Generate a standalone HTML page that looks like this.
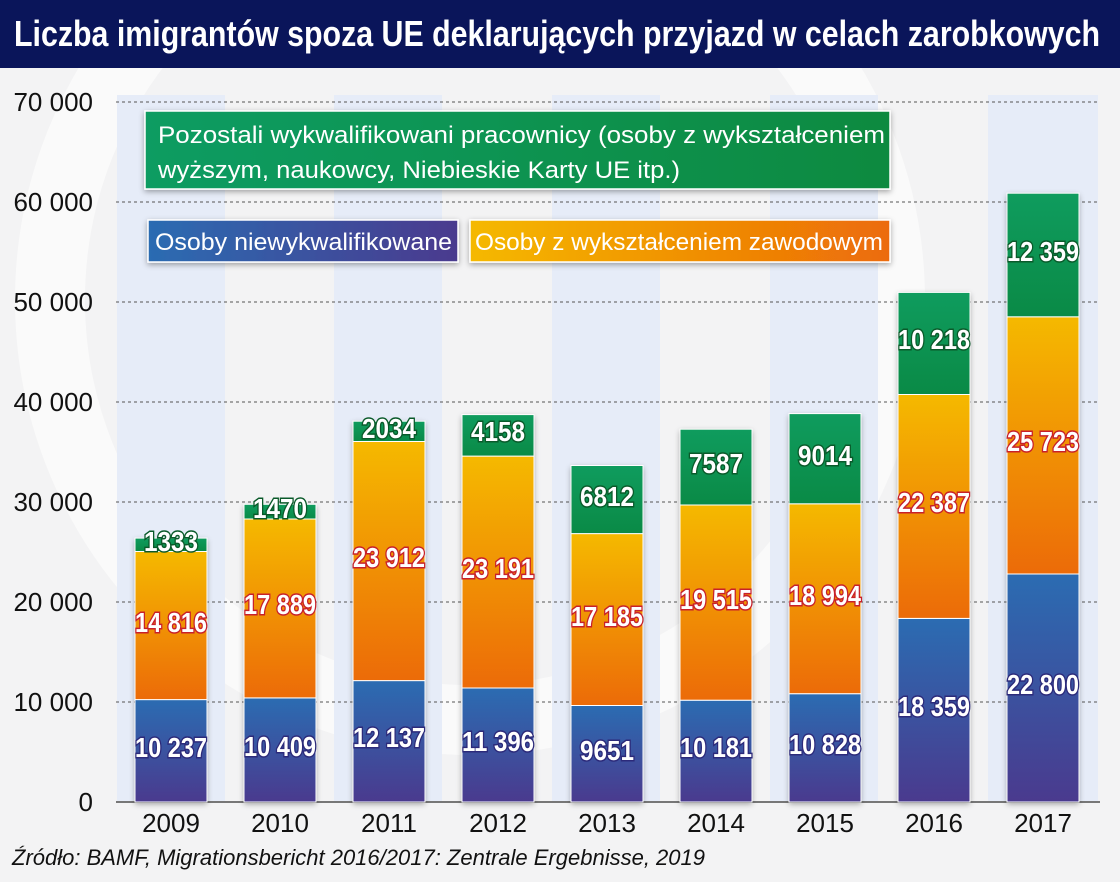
<!DOCTYPE html>
<html><head><meta charset="utf-8"><style>
html,body{margin:0;padding:0;width:1120px;height:882px;overflow:hidden;background:#f3f3f4}
svg{display:block}
text{font-family:"Liberation Sans Narrow","Liberation Sans",sans-serif}
.v{font-size:28px;font-weight:bold;fill:#fff;stroke-width:3px;paint-order:stroke;text-anchor:middle}
.b{stroke:#2c2a7a}.o{stroke:#c8202a}.g{stroke:#0a5a2a}
</style></head><body>
<svg width="1120" height="882" viewBox="0 0 1120 882" xmlns="http://www.w3.org/2000/svg">
<defs>
<linearGradient id="gb" x1="0" y1="0" x2="0" y2="1"><stop offset="0" stop-color="#2b6cb2"/><stop offset="1" stop-color="#4a3a8e"/></linearGradient>
<linearGradient id="go" x1="0" y1="0" x2="0" y2="1"><stop offset="0" stop-color="#f5b900"/><stop offset="1" stop-color="#ec6b08"/></linearGradient>
<linearGradient id="gg" x1="0" y1="0" x2="0" y2="1"><stop offset="0" stop-color="#0f9c5e"/><stop offset="1" stop-color="#0a8a46"/></linearGradient>
<linearGradient id="gbl" x1="0" y1="0" x2="1" y2="0"><stop offset="0" stop-color="#2b6cb2"/><stop offset="1" stop-color="#4a3a8e"/></linearGradient>
<linearGradient id="gol" x1="0" y1="0" x2="1" y2="0"><stop offset="0" stop-color="#f5b900"/><stop offset="1" stop-color="#ec6b08"/></linearGradient>
<linearGradient id="ggl" x1="0" y1="0" x2="1" y2="0"><stop offset="0" stop-color="#0f9c62"/><stop offset="1" stop-color="#0b8a40"/></linearGradient>
<filter id="sh" x="-20%" y="-20%" width="140%" height="140%"><feDropShadow dx="0" dy="2" stdDeviation="3" flood-color="#000" flood-opacity="0.35"/></filter>
</defs>
<circle cx="470" cy="300" r="420" fill="none" stroke="#fbfbfb" stroke-width="70" opacity="0.8"/>
<g fill="#e6ecf8">
<rect x="117" y="95" width="108" height="707"/>
<rect x="334" y="95" width="108" height="707"/>
<rect x="552" y="95" width="108" height="707"/>
<rect x="770" y="95" width="108" height="707"/>
<rect x="988" y="95" width="110" height="707"/>
</g>
<rect x="0" y="0" width="1120" height="68" fill="#0a155a"/>
<text x="14" y="46" fill="#fff" font-size="36" font-weight="bold" textLength="1086" lengthAdjust="spacingAndGlyphs">Liczba imigrantów spoza UE deklarujących przyjazd w celach zarobkowych</text>
<g stroke="#555" stroke-width="1" stroke-dasharray="3,3">
<line x1="116" y1="102" x2="1100" y2="102"/><line x1="116" y1="202" x2="1100" y2="202"/>
<line x1="116" y1="302" x2="1100" y2="302"/><line x1="116" y1="402" x2="1100" y2="402"/>
<line x1="116" y1="502" x2="1100" y2="502"/><line x1="116" y1="602" x2="1100" y2="602"/>
<line x1="116" y1="702" x2="1100" y2="702"/>
</g>
<line x1="116" y1="802" x2="1100" y2="802" stroke="#777" stroke-width="2"/>
<g font-size="26" fill="#111" text-anchor="end">
<text x="93" y="111">70 000</text><text x="93" y="211">60 000</text><text x="93" y="311">50 000</text>
<text x="93" y="411">40 000</text><text x="93" y="511">30 000</text><text x="93" y="611">20 000</text>
<text x="93" y="711">10 000</text><text x="93" y="811">0</text>
</g>
<g filter="url(#sh)">
<rect x="145" y="111" width="745" height="78" fill="url(#ggl)" stroke="#fff" stroke-width="1.5"/>
<rect x="148" y="220" width="310" height="42" fill="url(#gbl)" stroke="#fff" stroke-width="1.5"/>
<rect x="470" y="220" width="420" height="42" fill="url(#gol)" stroke="#fff" stroke-width="1.5"/>
</g>
<g font-size="24" fill="#fff">
<text x="158" y="143" textLength="727" lengthAdjust="spacingAndGlyphs">Pozostali wykwalifikowani pracownicy (osoby z wykształceniem</text>
<text x="158" y="178" textLength="522" lengthAdjust="spacingAndGlyphs">wyższym, naukowcy, Niebieskie Karty UE itp.)</text>
<text x="155" y="250" textLength="297" lengthAdjust="spacingAndGlyphs">Osoby niewykwalifikowane</text>
<text x="475" y="250" textLength="408" lengthAdjust="spacingAndGlyphs">Osoby z wykształceniem zawodowym</text>
</g>

<g filter="url(#sh)" fill="#888">
<rect x="135" y="538.1" width="72" height="263.9"/>
<rect x="244" y="504.3" width="72" height="297.7"/>
<rect x="353" y="421.2" width="72" height="380.8"/>
<rect x="462" y="414.6" width="72" height="387.4"/>
<rect x="571" y="465.5" width="72" height="336.5"/>
<rect x="680" y="429.2" width="72" height="372.8"/>
<rect x="789" y="413.6" width="72" height="388.4"/>
<rect x="898" y="292.4" width="72" height="509.6"/>
<rect x="1007" y="193.2" width="72" height="608.8"/>
</g>
<g stroke="#fff" stroke-width="1">
<rect x="135" y="699.6" width="72" height="102.4" fill="url(#gb)"/><rect x="135" y="551.5" width="72" height="148.1" fill="url(#go)"/><rect x="135" y="538.1" width="72" height="13.4" fill="url(#gg)"/>
<rect x="244" y="697.9" width="72" height="104.1" fill="url(#gb)"/><rect x="244" y="519.0" width="72" height="178.9" fill="url(#go)"/><rect x="244" y="504.3" width="72" height="14.7" fill="url(#gg)"/>
<rect x="353" y="680.6" width="72" height="121.4" fill="url(#gb)"/><rect x="353" y="441.5" width="72" height="239.1" fill="url(#go)"/><rect x="353" y="421.2" width="72" height="20.3" fill="url(#gg)"/>
<rect x="462" y="688.0" width="72" height="114.0" fill="url(#gb)"/><rect x="462" y="456.1" width="72" height="231.9" fill="url(#go)"/><rect x="462" y="414.6" width="72" height="41.5" fill="url(#gg)"/>
<rect x="571" y="705.5" width="72" height="96.5" fill="url(#gb)"/><rect x="571" y="533.6" width="72" height="171.9" fill="url(#go)"/><rect x="571" y="465.5" width="72" height="68.1" fill="url(#gg)"/>
<rect x="680" y="700.2" width="72" height="101.8" fill="url(#gb)"/><rect x="680" y="505.0" width="72" height="195.2" fill="url(#go)"/><rect x="680" y="429.2" width="72" height="75.8" fill="url(#gg)"/>
<rect x="789" y="693.7" width="72" height="108.3" fill="url(#gb)"/><rect x="789" y="503.8" width="72" height="189.9" fill="url(#go)"/><rect x="789" y="413.6" width="72" height="90.2" fill="url(#gg)"/>
<rect x="898" y="618.4" width="72" height="183.6" fill="url(#gb)"/><rect x="898" y="394.5" width="72" height="223.9" fill="url(#go)"/><rect x="898" y="292.4" width="72" height="102.1" fill="url(#gg)"/>
<rect x="1007" y="574.0" width="72" height="228.0" fill="url(#gb)"/><rect x="1007" y="316.8" width="72" height="257.2" fill="url(#go)"/><rect x="1007" y="193.2" width="72" height="123.6" fill="url(#gg)"/>
</g>
<g class="v">
<text class="b" x="171" y="757" textLength="72" lengthAdjust="spacingAndGlyphs">10 237</text>
<text class="o" x="171" y="632" textLength="72" lengthAdjust="spacingAndGlyphs">14 816</text>
<text class="g" x="171" y="551" textLength="54" lengthAdjust="spacingAndGlyphs">1333</text>
<text class="b" x="280" y="756" textLength="72" lengthAdjust="spacingAndGlyphs">10 409</text>
<text class="o" x="280" y="614" textLength="72" lengthAdjust="spacingAndGlyphs">17 889</text>
<text class="g" x="280" y="518" textLength="54" lengthAdjust="spacingAndGlyphs">1470</text>
<text class="b" x="389" y="747" textLength="72" lengthAdjust="spacingAndGlyphs">12 137</text>
<text class="o" x="389" y="567" textLength="72" lengthAdjust="spacingAndGlyphs">23 912</text>
<text class="g" x="389" y="438" textLength="54" lengthAdjust="spacingAndGlyphs">2034</text>
<text class="b" x="498" y="751" textLength="72" lengthAdjust="spacingAndGlyphs">11 396</text>
<text class="o" x="498" y="578" textLength="72" lengthAdjust="spacingAndGlyphs">23 191</text>
<text class="g" x="498" y="441" textLength="54" lengthAdjust="spacingAndGlyphs">4158</text>
<text class="b" x="607" y="760" textLength="54" lengthAdjust="spacingAndGlyphs">9651</text>
<text class="o" x="607" y="626" textLength="72" lengthAdjust="spacingAndGlyphs">17 185</text>
<text class="g" x="607" y="506" textLength="54" lengthAdjust="spacingAndGlyphs">6812</text>
<text class="b" x="716" y="757" textLength="72" lengthAdjust="spacingAndGlyphs">10 181</text>
<text class="o" x="716" y="609" textLength="72" lengthAdjust="spacingAndGlyphs">19 515</text>
<text class="g" x="716" y="473" textLength="54" lengthAdjust="spacingAndGlyphs">7587</text>
<text class="b" x="825" y="754" textLength="72" lengthAdjust="spacingAndGlyphs">10 828</text>
<text class="o" x="825" y="605" textLength="72" lengthAdjust="spacingAndGlyphs">18 994</text>
<text class="g" x="825" y="465" textLength="54" lengthAdjust="spacingAndGlyphs">9014</text>
<text class="b" x="934" y="716" textLength="72" lengthAdjust="spacingAndGlyphs">18 359</text>
<text class="o" x="934" y="512" textLength="72" lengthAdjust="spacingAndGlyphs">22 387</text>
<text class="g" x="934" y="349" textLength="72" lengthAdjust="spacingAndGlyphs">10 218</text>
<text class="b" x="1043" y="694" textLength="72" lengthAdjust="spacingAndGlyphs">22 800</text>
<text class="o" x="1043" y="451" textLength="72" lengthAdjust="spacingAndGlyphs">25 723</text>
<text class="g" x="1043" y="261" textLength="72" lengthAdjust="spacingAndGlyphs">12 359</text>
</g>
<g font-size="26" fill="#111" text-anchor="middle">
<text x="171" y="832">2009</text><text x="280" y="832">2010</text><text x="389" y="832">2011</text>
<text x="498" y="832">2012</text><text x="607" y="832">2013</text><text x="716" y="832">2014</text>
<text x="825" y="832">2015</text><text x="934" y="832">2016</text><text x="1043" y="832">2017</text>
</g>
<text x="12" y="865" font-size="22" font-style="italic" fill="#111">Źródło: BAMF, Migrationsbericht 2016/2017: Zentrale Ergebnisse, 2019</text>
</svg>
</body></html>
